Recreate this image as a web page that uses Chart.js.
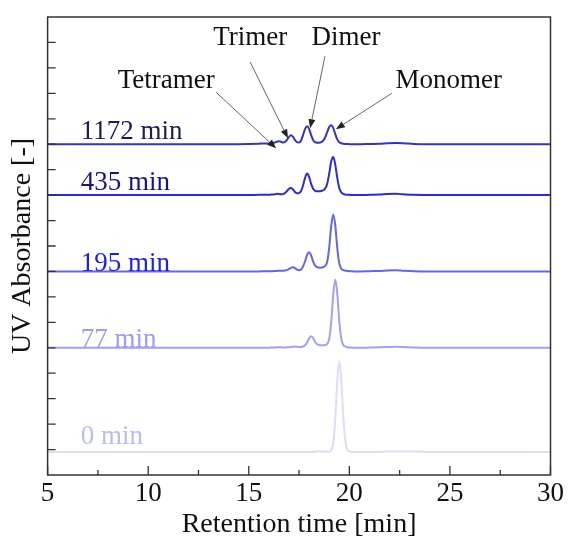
<!DOCTYPE html>
<html>
<head>
<meta charset="utf-8">
<script src="https://cdn.jsdelivr.net/npm/chart.js@4.4.1/dist/chart.umd.min.js"></script>
<style>
  body { margin: 0; background: #fff; }
</style>
</head>
<body>
<canvas id="myChart" width="569" height="543"></canvas>
<script>
// retention time grid [min], shared by all chromatograms
const retentionTime = [5, 10, 14, 15, 15.5, 15.8,
  16.0, 16.1, 16.2, 16.3, 16.4, 16.5, 16.6, 16.7, 16.8, 16.9,
  17.0, 17.1, 17.2, 17.3, 17.4, 17.5, 17.6, 17.7, 17.8, 17.9,
  18.0, 18.1, 18.2, 18.3, 18.4, 18.5, 18.6, 18.7, 18.8, 18.9,
  19.0, 19.1, 19.2, 19.3, 19.4, 19.5, 19.6, 19.7, 19.8, 19.9,
  20.0, 20.1, 20.2, 20.3, 20.5,
  21, 21.5, 21.9, 22.3, 22.7, 23.2, 24, 27, 30];

const sampleNames = ['1172 min', '435 min', '195 min', '77 min', '0 min'];
const baselines = [13, 11, 8, 5, 0.9];

// absorbance above each baseline
const abs1172 = [0, 0, 0, 0.01, 0.02, 0.03,
  0.03, 0.04, 0.05, 0.07, 0.10, 0.12, 0.10, 0.07, 0.09, 0.17,
  0.29, 0.35, 0.29, 0.16, 0.08, 0.07, 0.15, 0.36, 0.60, 0.71,
  0.60, 0.36, 0.17, 0.08, 0.06, 0.06, 0.08, 0.14, 0.27, 0.48,
  0.68, 0.75, 0.64, 0.40, 0.19, 0.08, 0.04, 0.02, 0.01, 0.01,
  0, 0, 0, 0, 0,
  0.01, 0.02, 0.04, 0.05, 0.04, 0.01, 0, 0, 0];
const abs435 = [0, 0, 0, 0, 0.01, 0.01,
  0.01, 0.02, 0.02, 0.03, 0.05, 0.04, 0.03, 0.04, 0.08, 0.16,
  0.25, 0.28, 0.22, 0.12, 0.07, 0.08, 0.16, 0.38, 0.68, 0.85,
  0.72, 0.44, 0.25, 0.17, 0.15, 0.15, 0.16, 0.19, 0.26, 0.45,
  0.85, 1.32, 1.50, 1.20, 0.68, 0.28, 0.11, 0.05, 0.02, 0.01,
  0.01, 0, 0, 0, 0,
  0.01, 0.02, 0.04, 0.05, 0.03, 0.01, 0, 0, 0];
const abs195 = [0, 0, 0, 0, 0, 0.01,
  0.01, 0.01, 0.01, 0.02, 0.02, 0.03, 0.03, 0.03, 0.04, 0.06,
  0.10, 0.14, 0.16, 0.13, 0.07, 0.05, 0.08, 0.20, 0.40, 0.65,
  0.75, 0.63, 0.39, 0.23, 0.17, 0.15, 0.15, 0.17, 0.22, 0.38,
  0.95, 1.80, 2.24, 1.82, 0.92, 0.32, 0.11, 0.05, 0.03, 0.02,
  0.01, 0.01, 0, 0, 0,
  0.01, 0.02, 0.04, 0.05, 0.03, 0.01, 0, 0, 0];
const abs77 = [0, 0, 0, 0, 0, 0,
  0, 0.01, 0.01, 0.01, 0.02, 0.02, 0.02, 0.01, 0.01, 0.02,
  0.02, 0.03, 0.04, 0.05, 0.04, 0.03, 0.03, 0.05, 0.10, 0.21,
  0.37, 0.45, 0.38, 0.23, 0.14, 0.11, 0.10, 0.10, 0.11, 0.15,
  0.36, 1.02, 2.08, 2.68, 2.15, 1.05, 0.36, 0.11, 0.05, 0.02,
  0.01, 0.01, 0, 0, 0,
  0.01, 0.02, 0.03, 0.04, 0.03, 0.01, 0, 0, 0];
const abs0 = [0, 0, 0, 0, 0, 0,
  0, 0, 0, 0, 0, 0, 0, 0, 0, 0,
  0, 0, 0, 0, 0, 0, 0, 0, 0, 0,
  0, 0, 0, 0.01, 0.02, 0.03, 0.02, 0.01, 0.01, 0.01,
  0.02, 0.07, 0.36, 1.29, 2.77, 3.58, 2.85, 1.40, 0.45, 0.10,
  0.03, 0.01, 0, 0, 0,
  0, 0.01, 0.02, 0.02, 0.02, 0.02, 0, 0, 0];

const series = [abs1172, abs435, abs195, abs77, abs0];
const lineColors = ['#3434c4', '#2a2ae0', '#6464f0', '#a0a0f8', '#dcdcfc'];
const textColors = ['#1c1c52', '#141490', '#1e1eee', '#9c9cff', '#babaff'];
const labelLevels = [13.22, 11.19, 8.03, 5.04, 1.21];

const peakNames = ['Tetramer', 'Trimer', 'Dimer', 'Monomer'];
const peakTextAt = [[10.9, 15.48], [15.07, 17.17], [19.83, 17.17], [24.94, 15.48]];
const arrowFrom = [[13.38, 15.04], [15.07, 16.23], [18.79, 16.46], [22.11, 15.0]];
const arrowTo = [[16.36, 12.84], [16.95, 13.23], [18.05, 13.63], [19.33, 13.59]];

const serif = "'Liberation Serif', 'Times New Roman', serif";

const overlay = {
  id: 'overlay',
  afterDraw(chart) {
    const { ctx, chartArea: a, scales: { x, y } } = chart;
    ctx.save();
    // frame
    ctx.strokeStyle = '#333';
    ctx.lineWidth = 1.5;
    ctx.strokeRect(a.left, a.top, a.right - a.left, a.bottom - a.top);
    // inward ticks
    ctx.lineWidth = 1.3;
    ctx.beginPath();
    x.ticks.forEach((t, i) => {
      const px = x.getPixelForValue(t.value);
      ctx.moveTo(px, a.bottom); ctx.lineTo(px, a.bottom - 9);
      if (i < x.ticks.length - 1) {
        const mx = x.getPixelForValue((t.value + x.ticks[i + 1].value) / 2);
        ctx.moveTo(mx, a.bottom); ctx.lineTo(mx, a.bottom - 5);
      }
    });
    y.ticks.forEach(t => {
      if (t.value <= y.min || t.value >= y.max) return;
      const py = y.getPixelForValue(t.value);
      ctx.moveTo(a.left, py); ctx.lineTo(a.left + 8, py);
    });
    ctx.stroke();

    // sample labels
    ctx.font = '27px ' + serif;
    ctx.textAlign = 'left';
    ctx.textBaseline = 'alphabetic';
    sampleNames.forEach((name, i) => {
      ctx.fillStyle = textColors[i];
      ctx.fillText(name, x.getPixelForValue(6.65), y.getPixelForValue(labelLevels[i]));
    });

    // peak annotations
    ctx.fillStyle = '#111';
    ctx.textAlign = 'center';
    ctx.textBaseline = 'middle';
    peakNames.forEach((name, i) => {
      ctx.fillText(name, x.getPixelForValue(peakTextAt[i][0]), y.getPixelForValue(peakTextAt[i][1]));
      const x0 = x.getPixelForValue(arrowFrom[i][0]), y0 = y.getPixelForValue(arrowFrom[i][1]);
      const x1 = x.getPixelForValue(arrowTo[i][0]), y1 = y.getPixelForValue(arrowTo[i][1]);
      const ang = Math.atan2(y1 - y0, x1 - x0);
      const hl = 9, hw = 3.5;
      const bx = x1 - hl * Math.cos(ang), by = y1 - hl * Math.sin(ang);
      ctx.strokeStyle = '#666';
      ctx.lineWidth = 1;
      ctx.beginPath();
      ctx.moveTo(x0, y0); ctx.lineTo(bx, by);
      ctx.stroke();
      ctx.fillStyle = '#222';
      ctx.beginPath();
      ctx.moveTo(x1, y1);
      ctx.lineTo(bx + hw * Math.sin(ang), by - hw * Math.cos(ang));
      ctx.lineTo(bx - hw * Math.sin(ang), by + hw * Math.cos(ang));
      ctx.closePath();
      ctx.fill();
      ctx.fillStyle = '#111';
    });
    ctx.restore();
  }
};

const ctx = document.getElementById('myChart').getContext('2d');
const chart = new Chart(ctx, {
  type: 'line',
  data: {
    datasets: series.map((vals, i) => ({
      label: sampleNames[i],
      data: retentionTime.map((t, j) => ({ x: t, y: baselines[i] + vals[j] })),
      borderColor: lineColors[i],
      borderWidth: 2,
      pointRadius: 0,
      cubicInterpolationMode: 'monotone',
      fill: false
    })).reverse()
  },
  options: {
    responsive: false,
    devicePixelRatio: 1,
    animation: false,
    layout: { padding: { left: 4, right: 18, top: 17, bottom: 0 } },
    plugins: { legend: { display: false }, tooltip: { enabled: false } },
    scales: {
      x: {
        type: 'linear',
        min: 5, max: 30,
        grid: { display: false, drawTicks: false },
        border: { display: false },
        ticks: { stepSize: 5, padding: 5, color: '#111',
                 font: { family: serif, size: 27, lineHeight: 1 } },
        title: { display: true, text: 'Retention time [min]', color: '#111',
                 font: { family: serif, size: 28, lineHeight: 1 }, padding: { top: -1, bottom: 4 } }
      },
      y: {
        min: 0, max: 18,
        grid: { display: false, drawTicks: false },
        border: { display: false },
        ticks: { display: false, stepSize: 1 },
        title: { display: true, text: 'UV Absorbance [-]', color: '#111',
                 font: { family: serif, size: 28 }, padding: { top: 2, bottom: 8 } }
      }
    }
  },
  plugins: [overlay]
});
</script>
</body>
</html>
